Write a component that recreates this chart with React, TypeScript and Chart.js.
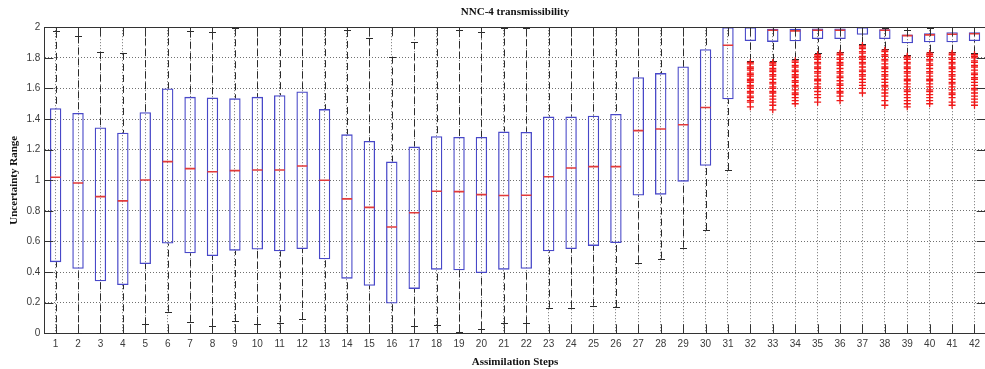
import React, { useEffect, useRef } from 'react';
import { Chart, registerables } from 'chart.js';

Chart.register(...registerables);

// ---------------- data ----------------
const steps = ['1', '2', '3', '4', '5', '6', '7', '8', '9', '10', '11', '12', '13', '14',
  '15', '16', '17', '18', '19', '20', '21', '22', '23', '24', '25', '26', '27', '28',
  '29', '30', '31', '32', '33', '34', '35', '36', '37', '38', '39', '40', '41', '42'];

const boxHigh = [1.47, 1.44, 1.345, 1.31, 1.445, 1.6, 1.545, 1.54, 1.535, 1.545, 1.555, 1.58, 1.465, 1.3,
  1.257, 1.122, 1.22, 1.287, 1.283, 1.283, 1.318, 1.316, 1.416, 1.416, 1.422, 1.433, 1.673, 1.7,
  1.743, 1.856, 2.0, 2.0, 1.99, 1.99, 1.992, 1.992, 2.0, 1.987, 1.952, 1.961, 1.967, 1.967];

const boxLow = [0.465, 0.422, 0.34, 0.316, 0.453, 0.586, 0.523, 0.505, 0.54, 0.547, 0.536, 0.551, 0.484, 0.357,
  0.311, 0.194, 0.29, 0.416, 0.412, 0.394, 0.416, 0.422, 0.536, 0.551, 0.571, 0.59, 0.9, 0.906,
  0.991, 1.095, 1.529, 1.91, 1.904, 1.908, 1.923, 1.923, 1.95, 1.923, 1.895, 1.902, 1.902, 1.91];

const medians = [1.02, 0.982, 0.893, 0.865, 1.002, 1.122, 1.076, 1.056, 1.063, 1.067, 1.067, 1.093, 1.0, 0.878,
  0.823, 0.695, 0.788, 0.928, 0.926, 0.906, 0.9, 0.902, 1.023, 1.08, 1.089, 1.089, 1.324, 1.335,
  1.363, 1.475, 1.882, 2.0, 1.98, 1.976, 1.98, 1.98, 2.0, 1.98, 1.945, 1.95, 1.954, 1.957];

const whiskerHigh = [1.976, 1.94, 1.836, 1.832, 2, 2, 1.978, 1.967, 1.993, 2, 2, 2, 2, 1.982,
  1.928, 1.808, 1.902, 2, 1.982, 1.971, 1.998, 1.993, 2, 2, 2, 2, 2, 2,
  2, 2, 2, 2, 2, 2, 2, 2, 2, 1.998, 1.984, 1.995, 2, 2];

const whiskerLow = [0, 0, 0, 0, 0.059, 0.141, 0.076, 0.048, 0.08, 0.061, 0.07, 0.093, 0, 0,
  0, 0, 0.05, 0.056, 0.006, 0.03, 0.065, 0.065, 0.167, 0.167, 0.18, 0.172, 0.461, 0.488,
  0.56, 0.675, 1.067, 1.78, 1.78, 1.79, 1.83, 1.84, 1.89, 1.86, 1.82, 1.84, 1.84, 1.83];

const outliers32 = [1.77, 1.76, 1.74, 1.73, 1.72, 1.7, 1.69, 1.68, 1.66, 1.65, 1.64, 1.62, 1.61, 1.6, 1.58, 1.57, 1.55, 1.54, 1.52, 1.51, 1.48];
const outliers33 = [1.77, 1.76, 1.75, 1.73, 1.72, 1.71, 1.69, 1.68, 1.66, 1.64, 1.63, 1.61, 1.6, 1.58, 1.57, 1.55, 1.53, 1.51, 1.49, 1.46];
const outliers34 = [1.78, 1.77, 1.75, 1.74, 1.72, 1.71, 1.69, 1.68, 1.67, 1.65, 1.64, 1.62, 1.61, 1.59, 1.57, 1.56, 1.54, 1.52, 1.5];
const outliers35 = [1.82, 1.81, 1.8, 1.79, 1.77, 1.76, 1.74, 1.73, 1.71, 1.7, 1.68, 1.66, 1.65, 1.63, 1.61, 1.6, 1.58, 1.56, 1.54, 1.51];
const outliers36 = [1.83, 1.82, 1.8, 1.79, 1.77, 1.76, 1.75, 1.73, 1.71, 1.7, 1.68, 1.67, 1.65, 1.63, 1.62, 1.6, 1.58, 1.57, 1.55, 1.52];
const outliers37 = [1.88, 1.87, 1.86, 1.84, 1.83, 1.81, 1.8, 1.79, 1.77, 1.76, 1.74, 1.72, 1.71, 1.69, 1.68, 1.66, 1.64, 1.62, 1.6, 1.57];
const outliers38 = [1.85, 1.84, 1.82, 1.81, 1.79, 1.78, 1.76, 1.74, 1.73, 1.71, 1.69, 1.68, 1.66, 1.64, 1.62, 1.61, 1.59, 1.57, 1.55, 1.52, 1.49];
const outliers39 = [1.81, 1.8, 1.79, 1.77, 1.76, 1.74, 1.73, 1.71, 1.7, 1.68, 1.66, 1.65, 1.63, 1.61, 1.59, 1.58, 1.56, 1.54, 1.52, 1.5, 1.48];
const outliers40 = [1.83, 1.82, 1.81, 1.79, 1.78, 1.76, 1.75, 1.73, 1.71, 1.7, 1.68, 1.66, 1.65, 1.63, 1.61, 1.59, 1.58, 1.56, 1.54, 1.52, 1.5];
const outliers41 = [1.83, 1.82, 1.8, 1.79, 1.77, 1.76, 1.74, 1.73, 1.71, 1.69, 1.68, 1.66, 1.64, 1.63, 1.61, 1.59, 1.57, 1.56, 1.54, 1.51, 1.49];
const outliers42 = [1.82, 1.81, 1.8, 1.78, 1.77, 1.75, 1.74, 1.72, 1.7, 1.69, 1.67, 1.66, 1.64, 1.62, 1.6, 1.59, 1.57, 1.55, 1.53, 1.51, 1.49];

const outlierSteps = ['32', '33', '34', '35', '36', '37', '38', '39', '40', '41', '42'];
const outlierGroups = [outliers32, outliers33, outliers34, outliers35, outliers36, outliers37,
  outliers38, outliers39, outliers40, outliers41, outliers42];

const yTickValues = [0, 0.2, 0.4, 0.6, 0.8, 1, 1.2, 1.4, 1.6, 1.8, 2];
const yTickLabels = ['0', '0.2', '0.4', '0.6', '0.8', '1', '1.2', '1.4', '1.6', '1.8', '2'];

const chartTitle = 'NNC-4 transmissibility';
const xTitle = 'Assimilation Steps';
const yTitle = 'Uncertainty Range';

// ---------------- styling ----------------
const CANVAS_W = 991;
const CANVAS_H = 369;
const BOX_COLOR = '#4848c8';
const MEDIAN_COLOR = '#e23a3a';
const OUTLIER_COLOR = '#f01818';
const WHISKER_COLOR = '#2b2b2b';
const AXIS_COLOR = '#333333';
const GRID_COLOR = '#707070';
const TICK_TEXT = '#3a3a3a';

const extrasPlugin = {
  id: 'boxplotExtras',
  beforeDatasetsDraw(chart: any) {
    const { ctx, chartArea, scales } = chart;
    const x = scales.x;
    const y = scales.y;
    ctx.save();
    ctx.beginPath();
    ctx.rect(chartArea.left, chartArea.top - 1, chartArea.right - chartArea.left, chartArea.bottom - chartArea.top + 2);
    ctx.clip();
    ctx.strokeStyle = WHISKER_COLOR;
    ctx.lineWidth = 1;
    steps.forEach((_, i) => {
      const px = Math.round(x.getPixelForValue(i)) + 0.5;
      const yq3 = y.getPixelForValue(boxHigh[i]);
      const yq1 = y.getPixelForValue(boxLow[i]);
      const yHi = y.getPixelForValue(whiskerHigh[i]);
      const yLo = y.getPixelForValue(whiskerLow[i]);
      ctx.setLineDash([7, 4]);
      ctx.beginPath();
      ctx.moveTo(px, yHi);
      ctx.lineTo(px, yq3);
      ctx.moveTo(px, yLo);
      ctx.lineTo(px, yq1);
      ctx.stroke();
      ctx.setLineDash([]);
      ctx.beginPath();
      const yh = Math.round(yHi) + 0.5;
      const yl = Math.round(yLo) + 0.5;
      ctx.moveTo(px - 3.5, yh);
      ctx.lineTo(px + 3.5, yh);
      ctx.moveTo(px - 3.5, yl);
      ctx.lineTo(px + 3.5, yl);
      ctx.stroke();
    });
    ctx.restore();
  },
  afterDatasetsDraw(chart: any) {
    const { ctx, chartArea, scales } = chart;
    const x = scales.x;
    const y = scales.y;
    // medians
    ctx.save();
    ctx.beginPath();
    ctx.rect(chartArea.left, chartArea.top, chartArea.right - chartArea.left, chartArea.bottom - chartArea.top);
    ctx.clip();
    const meta = chart.getDatasetMeta(0);
    ctx.strokeStyle = MEDIAN_COLOR;
    ctx.lineWidth = 1.6;
    steps.forEach((_, i) => {
      const bar = meta.data[i];
      const half = bar ? bar.width / 2 : 5.7;
      const px = x.getPixelForValue(i);
      const py = y.getPixelForValue(medians[i]);
      ctx.beginPath();
      ctx.moveTo(px - half + 0.6, py);
      ctx.lineTo(px + half - 0.6, py);
      ctx.stroke();
    });
    ctx.restore();

    // inward ticks and top border
    ctx.save();
    ctx.strokeStyle = AXIS_COLOR;
    ctx.lineWidth = 1;
    ctx.beginPath();
    steps.forEach((_, i) => {
      const px = Math.round(x.getPixelForValue(i)) + 0.5;
      ctx.moveTo(px, chartArea.bottom);
      ctx.lineTo(px, chartArea.bottom - 9);
      ctx.moveTo(px, chartArea.top);
      ctx.lineTo(px, chartArea.top + 9);
    });
    yTickValues.forEach((v) => {
      const py = Math.round(y.getPixelForValue(v)) + 0.5;
      ctx.moveTo(chartArea.left, py);
      ctx.lineTo(chartArea.left + 9, py);
      ctx.moveTo(chartArea.right - 9, py);
      ctx.lineTo(chartArea.right, py);
    });
    ctx.stroke();
    ctx.beginPath();
    const ty = Math.round(chartArea.top) + 0.5;
    ctx.moveTo(chartArea.left, ty);
    ctx.lineTo(chartArea.right, ty);
    ctx.stroke();
    ctx.restore();
  },
};

export default function App() {
  const canvasRef = useRef<HTMLCanvasElement | null>(null);

  useEffect(() => {
    document.documentElement.style.overflow = 'hidden';
    document.body.style.overflow = 'hidden';
    document.body.style.margin = '0';
    const canvas = canvasRef.current;
    if (!canvas) return;

    const outlierPoints: { x: string; y: number }[] = [];
    outlierGroups.forEach((group, g) => {
      group.forEach((v) => outlierPoints.push({ x: outlierSteps[g], y: v }));
    });

    const chart = new Chart(canvas, {
      type: 'bar',
      data: {
        labels: steps,
        datasets: [
          {
            type: 'bar',
            label: 'IQR',
            data: steps.map((_, i) => [boxLow[i], boxHigh[i]]) as any,
            backgroundColor: 'rgba(0,0,0,0)',
            borderColor: BOX_COLOR,
            borderWidth: 1.3,
            borderSkipped: false,
            categoryPercentage: 1,
            barPercentage: 0.51,
          } as any,
          {
            type: 'line',
            label: 'Outliers',
            data: outlierPoints as any,
            showLine: false,
            pointStyle: 'cross',
            pointRadius: 3.5,
            pointBorderColor: OUTLIER_COLOR,
            pointBackgroundColor: OUTLIER_COLOR,
            pointBorderWidth: 1.3,
          } as any,
        ],
      },
      options: {
        responsive: false,
        animation: false,
        devicePixelRatio: 1,
        events: [],
        layout: { padding: 0 },
        plugins: {
          legend: { display: false },
          tooltip: { enabled: false },
          title: {
            display: true,
            text: chartTitle,
            fullSize: false,
            color: '#111',
            font: { family: 'Liberation Serif', size: 11, weight: 'bold' },
            padding: { top: 6, bottom: 8 },
          },
        },
        scales: {
          x: {
            type: 'category',
            offset: true,
            grid: { offset: false, color: GRID_COLOR, lineWidth: 1, drawTicks: false },
            border: { display: true, color: AXIS_COLOR, width: 1, dash: [1, 2] },
            ticks: {
              padding: 5,
              color: TICK_TEXT,
              autoSkip: false,
              maxRotation: 0,
              font: { family: 'Liberation Sans', size: 10 },
            },
            title: {
              display: true,
              text: xTitle,
              color: '#111',
              font: { family: 'Liberation Serif', size: 11, weight: 'bold' },
              padding: { top: 0, bottom: 0 },
            },
            afterFit: (s: any) => { s.height = 35.7; },
          },
          y: {
            type: 'linear',
            min: 0,
            max: 2,
            grid: { color: GRID_COLOR, lineWidth: 1, drawTicks: false },
            border: { display: true, color: AXIS_COLOR, width: 1, dash: [1, 2] },
            afterBuildTicks: (s: any) => { s.ticks = yTickValues.map((v) => ({ value: v })); },
            ticks: {
              padding: 4,
              color: TICK_TEXT,
              font: { family: 'Liberation Sans', size: 10 },
              callback: (_v: any, index: number) => yTickLabels[index],
            },
            title: {
              display: true,
              text: yTitle,
              color: '#111',
              font: { family: 'Liberation Serif', size: 11, weight: 'bold' },
              padding: { top: 7.5, bottom: 0 },
            },
            afterFit: (s: any) => { s.width = 44.4; },
          },
        },
      } as any,
      plugins: [extrasPlugin],
    });

    return () => chart.destroy();
  }, []);

  return (
    <div style={{ position: 'absolute', left: 0, top: 0, width: CANVAS_W, height: CANVAS_H, background: '#fff' }}>
      <canvas ref={canvasRef} width={CANVAS_W} height={CANVAS_H} style={{ display: 'block' }} />
    </div>
  );
}
